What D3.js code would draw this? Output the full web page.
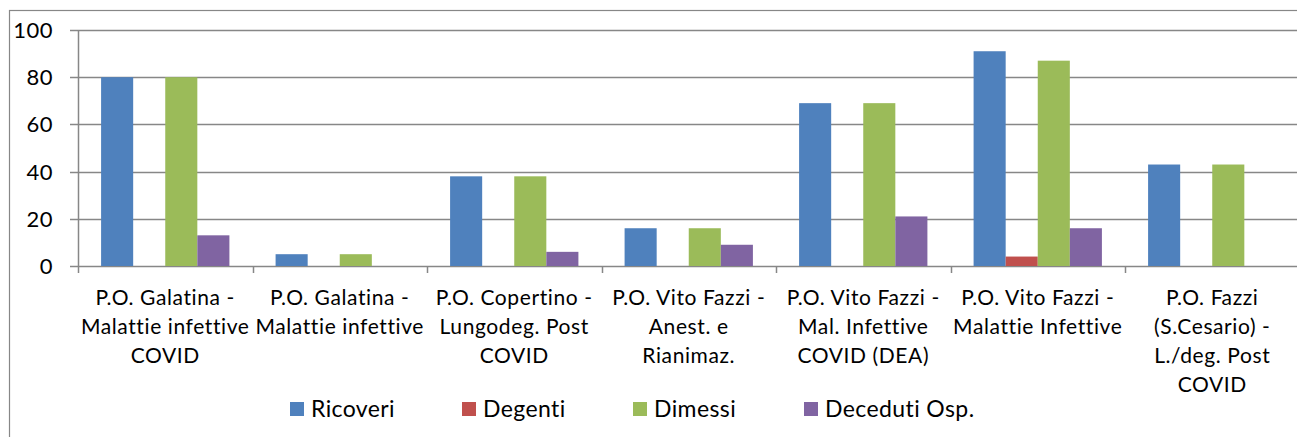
<!DOCTYPE html>
<html><head><meta charset="utf-8">
<script src="https://cdn.jsdelivr.net/npm/d3@7"></script>
<style>
html,body{margin:0;padding:0;background:#fff;}
svg{display:block;}
text{font-family:Lato,"Noto Sans",sans-serif;fill:#000;font-variant-ligatures:none;}
</style></head>
<body>
<svg id="chart" width="1297" height="437"></svg>
<script>
const categories = [
  ["P.O. Galatina -", "Malattie infettive", "COVID"],
  ["P.O. Galatina -", "Malattie infettive"],
  ["P.O. Copertino -", "Lungodeg. Post", "COVID"],
  ["P.O. Vito Fazzi -", "Anest. e", "Rianimaz."],
  ["P.O. Vito Fazzi -", "Mal. Infettive", "COVID (DEA)"],
  ["P.O. Vito Fazzi -", "Malattie Infettive"],
  ["P.O. Fazzi", "(S.Cesario) -", "L./deg. Post", "COVID"]
];
const seriesNames = ["Ricoveri", "Degenti", "Dimessi", "Deceduti Osp."];
const ricoveri = [80, 5, 38, 16, 69, 91, 43];
const degenti  = [0, 0, 0, 0, 0, 4, 0];
const dimessi  = [80, 5, 38, 16, 69, 87, 43];
const deceduti = [13, 0, 6, 9, 21, 16, 0];
const yTicks = [0, 20, 40, 60, 80, 100];
const colors = ["#4F81BD", "#C0504D", "#9BBB59", "#8064A2"];

(function () {
const series = [ricoveri, degenti, dimessi, deceduti];
const svg = d3.select("#chart");
const grey = "#878787";

svg.append("rect").attr("x", 9.5).attr("y", 10.5).attr("width", 1300).attr("height", 440)
  .attr("fill", "none").attr("stroke", grey).attr("stroke-width", 1.2);

const pL = 78, pR = 1299.5, pT = 30, pB = 266;
const x = d3.scaleBand().domain(d3.range(categories.length)).range([pL, pR]).padding(0);
const xInner = d3.scaleBand().domain(d3.range(series.length)).range([0, x.bandwidth()])
  .paddingInner(0).paddingOuter(0.72);
const y = d3.scaleLinear().domain([0, 100]).range([pB, pT]);

svg.append("g").selectAll("line").data(yTicks).join("line")
  .attr("x1", pL - 8).attr("x2", 1297)
  .attr("y1", d => Math.round(y(d)) + 0.5).attr("y2", d => Math.round(y(d)) + 0.5)
  .attr("stroke", grey).attr("stroke-width", 1.5);

svg.append("line").attr("x1", pL + 0.5).attr("x2", pL + 0.5).attr("y1", pT).attr("y2", pB)
  .attr("stroke", grey).attr("stroke-width", 1.5);

svg.append("g").selectAll("text").data(yTicks).join("text")
  .attr("x", 53).attr("y", d => y(d)).attr("dy", "0.36em")
  .attr("text-anchor", "end").style("font-size", "22px").style("letter-spacing", "0.5px").text(d => d);

series.forEach((vals, si) => {
  svg.append("g").selectAll("rect").data(vals).join("rect")
    .attr("x", (d, i) => x(i) + xInner(si))
    .attr("width", xInner.bandwidth())
    .attr("y", d => y(d))
    .attr("height", d => y(0) - y(d))
    .attr("fill", colors[si]);
});

svg.append("g").selectAll("line").data(d3.range(categories.length + 1)).join("line")
  .attr("x1", i => Math.round(pL + i * x.step()) + 0.5)
  .attr("x2", i => Math.round(pL + i * x.step()) + 0.5)
  .attr("y1", pB).attr("y2", pB + 7)
  .attr("stroke", grey).attr("stroke-width", 1.5);

const lab = svg.append("g").selectAll("text").data(categories).join("text")
  .attr("text-anchor", "middle").style("font-size", "21px").style("letter-spacing", "0.6px");
lab.each(function(lines, i) {
  const t = d3.select(this);
  lines.forEach((ln, k) => {
    t.append("tspan").attr("x", x(i) + x.bandwidth() / 2).attr("y", 305 + k * 28.9).text(ln);
  });
});

const legX = [290, 462, 633, 804];
const leg = svg.append("g").selectAll("g").data(seriesNames).join("g")
  .attr("transform", (d, i) => `translate(${legX[i]},402)`);
leg.append("rect").attr("width", 14).attr("height", 14).attr("fill", (d, i) => colors[i]);
leg.append("text").attr("x", 21).attr("y", 14.5)
  .style("font-size", "23px").style("letter-spacing", "0.4px").text(d => d);
})();
</script>
</body></html>
